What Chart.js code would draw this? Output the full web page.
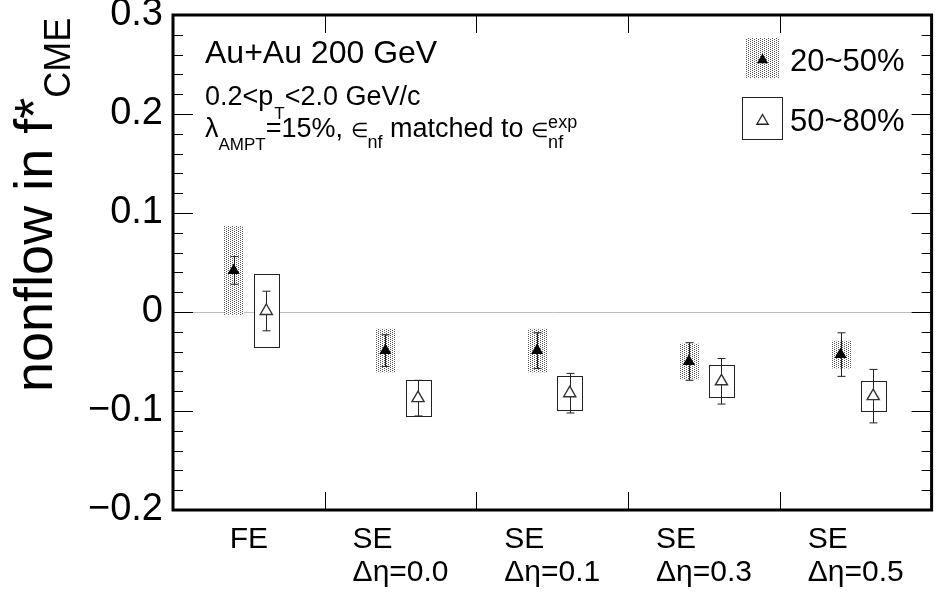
<!DOCTYPE html>
<html>
<head>
<meta charset="utf-8">
<script src="https://cdn.jsdelivr.net/npm/chart.js@4.4.1/dist/chart.umd.min.js"></script>
<style>
    body { margin: 0; background: #fff; }
    #wrap { width: 940px; height: 592px; }
</style>
</head>
<body>
<div id="wrap"><canvas id="nonflowChart"></canvas></div>
<script>

    // categories along x
    const categories = [["FE"], ["SE", "Δη=0.0"], ["SE", "Δη=0.1"], ["SE", "Δη=0.3"], ["SE", "Δη=0.5"]];

    // 20~50% centrality (filled triangles, dotted sys boxes)
    const central2050 = [0.042, -0.039, -0.039, -0.050, -0.043];
    const stat2050 = [0.014, 0.016, 0.018, 0.019, 0.022];
    const sys2050 = [0.045, 0.022, 0.022, 0.018, 0.014];

    // 50~80% centrality (open triangles, open sys boxes)
    const central5080 = [0.001, -0.087, -0.082, -0.070, -0.085];
    const stat5080 = [0.020, 0.018, 0.020, 0.023, 0.027];
    const sys5080 = [0.037, 0.018, 0.017, 0.016, 0.015];

    const seriesLabels = ["20~50%", "50~80%"];

    const FONT = '"Liberation Sans", Arial, sans-serif';
    const OFF_A = 0.4;    // x offset inside a category, filled
    const OFF_B = 0.615;  // x offset inside a category, open

    // dotted fill like ROOT's stipple pattern
    function makeDots() {
        const c = document.createElement("canvas");
        c.width = 4; c.height = 2;
        const g = c.getContext("2d");
        g.fillStyle = "#fff";
        g.fillRect(0, 0, 4, 2);
        g.fillStyle = "#555";
        g.fillRect(0, 0, 1, 1);
        g.fillRect(2, 1, 1, 1);
        return g.createPattern(c, "repeat");
    }

    function tri(ctx, x, y, r) {
        ctx.beginPath();
        ctx.moveTo(x, y - r);
        ctx.lineTo(x + r * 0.866, y + r * 0.5);
        ctx.lineTo(x - r * 0.866, y + r * 0.5);
        ctx.closePath();
    }

    function runs(ctx, x, y, parts) {
        let cx = x;
        parts.forEach(p => {
            ctx.font = p.s + "px " + FONT;
            ctx.fillText(p.t, cx, y + (p.dy || 0));
            if (!p.keep) cx += ctx.measureText(p.t).width + (p.gap || 0);
        });
    }

    const errorBoxes = {
        id: "errorBoxes",
        beforeDatasetsDraw(chart) {
            const { ctx, scales: { x, y } } = chart;
            const dots = makeDots();
            ctx.save();
            // systematic boxes
            central2050.forEach((v, i) => {
                const px = x.getPixelForValue(i + OFF_A);
                const t = y.getPixelForValue(v + sys2050[i]);
                const b = y.getPixelForValue(v - sys2050[i]);
                ctx.fillStyle = dots;
                ctx.fillRect(Math.round(px - 10), t, 20, b - t);
            });
            central5080.forEach((v, i) => {
                const px = x.getPixelForValue(i + OFF_B);
                const t = y.getPixelForValue(v + sys5080[i]);
                const b = y.getPixelForValue(v - sys5080[i]);
                ctx.fillStyle = "#fff";
                ctx.fillRect(px - 12.5, t, 25, b - t);
                ctx.strokeStyle = "#222";
                ctx.lineWidth = 1;
                ctx.strokeRect(Math.round(px - 12.5) + 0.5, Math.round(t) + 0.5, 25, Math.round(b - t));
            });
            // statistical error bars
            const bars = (cen, err, off) => {
                cen.forEach((v, i) => {
                    const px = Math.round(x.getPixelForValue(i + off)) + 0.5;
                    const t = y.getPixelForValue(v + err[i]);
                    const b = y.getPixelForValue(v - err[i]);
                    ctx.strokeStyle = "#222";
                    ctx.lineWidth = 1;
                    ctx.beginPath();
                    ctx.moveTo(px, t); ctx.lineTo(px, b);
                    ctx.moveTo(px - 4, t); ctx.lineTo(px + 4, t);
                    ctx.moveTo(px - 4, b); ctx.lineTo(px + 4, b);
                    ctx.stroke();
                });
            };
            bars(central2050, stat2050, OFF_A);
            bars(central5080, stat5080, OFF_B);
            ctx.restore();
        }
    };

    const frameAndText = {
        id: "frameAndText",
        afterDraw(chart) {
            const { ctx, chartArea: a, scales: { x, y } } = chart;
            ctx.save();
            ctx.strokeStyle = "#000";

            // inward ticks, y
            ctx.lineWidth = 1;
            ctx.beginPath();
            for (let k = 0; k <= 25; k++) {
                const py = Math.round(y.getPixelForValue(-0.2 + k * 0.02)) + 0.5;
                const len = k % 5 === 0 ? 20 : 10;
                ctx.moveTo(a.left, py); ctx.lineTo(a.left + len, py);
                ctx.moveTo(a.right, py); ctx.lineTo(a.right - len, py);
            }
            // inward ticks, x
            for (let i = 1; i < categories.length; i++) {
                const px = Math.round(x.getPixelForValue(i)) + 0.5;
                ctx.moveTo(px, a.bottom); ctx.lineTo(px, a.bottom - 18);
                ctx.moveTo(px, a.top); ctx.lineTo(px, a.top + 18);
            }
            ctx.stroke();

            // frame
            ctx.lineWidth = 3;
            ctx.strokeRect(a.left, a.top, a.right - a.left, a.bottom - a.top);

            ctx.fillStyle = "#000";
            ctx.textBaseline = "alphabetic";
            ctx.textAlign = "left";

            // x category labels
            ctx.font = "30px " + FONT;
            categories.forEach((lines, i) => {
                const cx = x.getPixelForValue(i + 0.5);
                const w = Math.max(...lines.map(s => ctx.measureText(s).width));
                lines.forEach((s, j) => {
                    ctx.fillText(s, cx - w / 2, 548 + j * 33);
                });
            });

            // y title
            ctx.save();
            ctx.translate(52, 392);
            ctx.rotate(-Math.PI / 2);
            ctx.font = "54px " + FONT;
            ctx.fillText("nonflow in f*", 0, 0);
            const w = ctx.measureText("nonflow in f*").width;
            ctx.font = "36px " + FONT;
            ctx.fillText("CME", w, 18);
            ctx.restore();

            // annotations
            runs(ctx, 205, 63, [{ t: "Au+Au 200 GeV", s: 32 }]);
            runs(ctx, 205, 105, [
                { t: "0.2<p", s: 27, gap: 1 },
                { t: "T", s: 17, dy: 14 },
                { t: "<2.0 GeV/c", s: 27 }
            ]);
            runs(ctx, 205, 137, [
                { t: "λ", s: 27 },
                { t: "AMPT", s: 17, dy: 13 },
                { t: "=15%, ", s: 27 },
                { t: "∈", s: 20 },
                { t: "nf", s: 18, dy: 11 },
                { t: " matched to ", s: 27 },
                { t: "∈", s: 20 },
                { t: "exp", s: 18, dy: -9, keep: true },
                { t: "nf", s: 18, dy: 11 }
            ]);

            // legend
            ctx.fillStyle = makeDots();
            ctx.fillRect(745, 38, 35, 40);
            ctx.fillStyle = "#000";
            tri(ctx, 762.5, 60, 6.5);
            ctx.fill();

            ctx.fillStyle = "#fff";
            ctx.fillRect(742, 97, 40, 42);
            ctx.lineWidth = 1;
            ctx.strokeStyle = "#222";
            ctx.strokeRect(742.5, 97.5, 40, 42);
            tri(ctx, 762.5, 121, 6.5);
            ctx.lineWidth = 1.3;
            ctx.stroke();

            ctx.fillStyle = "#000";
            ctx.font = "31px " + FONT;
            ctx.fillText(seriesLabels[0], 790, 71);
            ctx.fillText(seriesLabels[1], 790, 131);
            ctx.restore();
        }
    };

    const chart = document.getElementById("nonflowChart");

    new Chart(chart, {
        type: "scatter",
        data: {
            datasets: [{
                label: seriesLabels[0],
                data: central2050.map((v, i) => ({ x: i + OFF_A, y: v })),
                pointStyle: "triangle",
                pointRadius: 7,
                backgroundColor: "#000",
                borderColor: "#000",
                borderWidth: 0
            }, {
                label: seriesLabels[1],
                data: central5080.map((v, i) => ({ x: i + OFF_B, y: v })),
                pointStyle: "triangle",
                pointRadius: 7,
                backgroundColor: "#fff",
                borderColor: "#333",
                borderWidth: 1.4
            }]
        },
        options: {
            responsive: true,
            maintainAspectRatio: false,
            animation: false,
            events: [],
            layout: { padding: { left: 0, right: 3, top: 15, bottom: 82 } },
            scales: {
                x: {
                    type: "linear",
                    min: 0,
                    max: categories.length,
                    display: false
                },
                y: {
                    min: -0.2,
                    max: 0.3,
                    ticks: {
                        stepSize: 0.1,
                        padding: 10,
                        color: "#000",
                        font: { family: FONT, size: 38 },
                        callback: v => Math.abs(v) < 1e-9 ? "0" : (v < 0 ? "\u2212" + Math.abs(v).toFixed(1) : v.toFixed(1))
                    },
                    grid: {
                        drawTicks: false,
                        lineWidth: 1,
                        color: c => Math.abs(c.tick.value) < 1e-9 ? "#bdbdbd" : "rgba(0,0,0,0)"
                    },
                    border: { display: false },
                    afterFit(scale) {
                        scale.width = 173;
                        scale.paddingTop = 0;
                        scale.paddingBottom = 0;
                    }
                }
            },
            plugins: {
                legend: { display: false },
                tooltip: { enabled: false }
            }
        },
        plugins: [errorBoxes, frameAndText]
    });

</script>
</body>
</html>
